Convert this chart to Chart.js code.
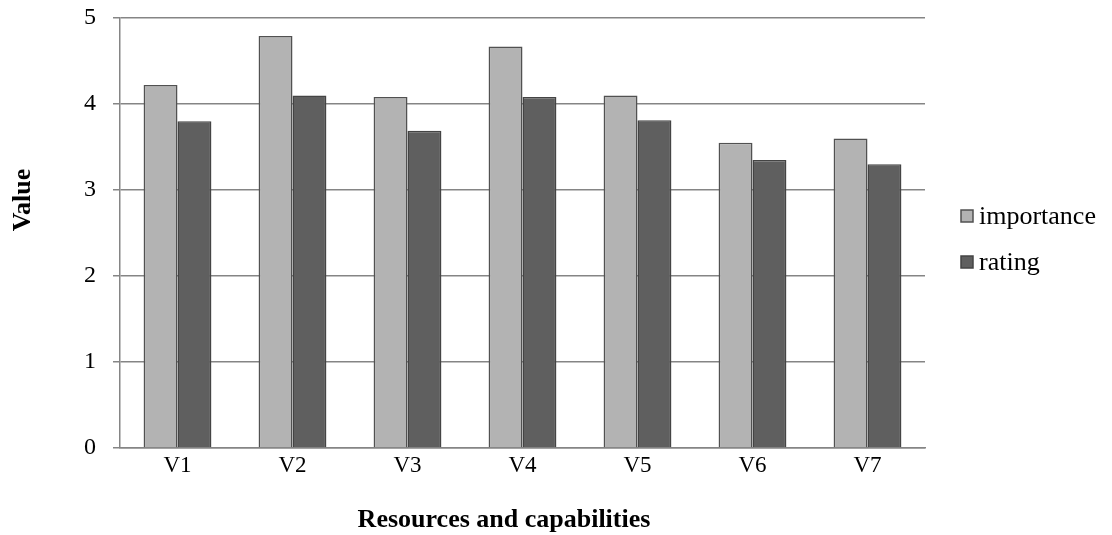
<!DOCTYPE html>
<html>
<head>
<meta charset="utf-8">
<script src="https://cdn.jsdelivr.net/npm/chart.js@4"></script>
<style>
  html, body { margin: 0; padding: 0; background: #fff; }
  #wrap { width: 1112px; height: 535px; }
</style>
</head>
<body>
<div id="wrap"><canvas id="c" width="1112" height="535"></canvas></div>
<script>
const categories = ['V1', 'V2', 'V3', 'V4', 'V5', 'V6', 'V7'];
const importance = [4.22, 4.79, 4.08, 4.67, 4.10, 3.55, 3.60];
const rating = [3.80, 4.10, 3.69, 4.08, 3.81, 3.35, 3.30];
const seriesNames = ['importance', 'rating'];
const yTicks = [0, 1, 2, 3, 4, 5];
const xTitle = 'Resources and capabilities';
const yTitle = 'Value';

const SERIF = '"Liberation Serif", "Times New Roman", serif';

// Axis titles and the side legend, painted after the bars
const extras = {
  id: 'extras',
  afterDraw(chart) {
    const ctx = chart.ctx;
    ctx.save();
    ctx.fillStyle = '#000';
    ctx.font = 'bold 26px ' + SERIF;
    ctx.textAlign = 'center';
    ctx.textBaseline = 'middle';
    ctx.fillText(xTitle, 504, 520);
    ctx.translate(23, 200);
    ctx.rotate(-Math.PI / 2);
    ctx.fillText(yTitle, 0, 0);
    ctx.restore();

    ctx.save();
    ctx.font = '26px ' + SERIF;
    ctx.textBaseline = 'middle';
    ctx.textAlign = 'left';
    const rows = [216, 262];
    chart.data.datasets.forEach((ds, i) => {
      const y = rows[i];
      ctx.fillStyle = ds.backgroundColor;
      ctx.strokeStyle = ds.borderColor;
      ctx.lineWidth = 1.5;
      ctx.fillRect(961, y - 6, 12, 12);
      ctx.strokeRect(961, y - 6, 12, 12);
      ctx.fillStyle = '#000';
      ctx.fillText(ds.label, 979, y + 1);
    });
    ctx.restore();
  }
};

new Chart(document.getElementById('c'), {
  type: 'bar',
  data: {
    labels: categories,
    datasets: [
      { label: seriesNames[0], data: importance, backgroundColor: '#b3b3b3', borderColor: '#515151', borderWidth: 1.5 },
      { label: seriesNames[1], data: rating, backgroundColor: '#5f5f5f', borderColor: '#444444', borderWidth: 1.5 }
    ]
  },
  options: {
    responsive: false,
    animation: false,
    devicePixelRatio: 1,
    layout: { padding: { left: 0, right: 187, top: 18, bottom: 0 } },
    datasets: { bar: { barPercentage: 1.0, categoryPercentage: 0.59 } },
    plugins: { legend: { display: false }, tooltip: { enabled: false } },
    scales: {
      x: {
        grid: { display: false, drawTicks: false },
        border: { display: true, color: '#858585', width: 1.5 },
        ticks: { color: '#000', font: { family: SERIF, size: 23 }, padding: 4, maxRotation: 0 },
        afterFit(scale) {
          scale.height = 87;
          scale.paddingLeft = 0;
          scale.paddingRight = 0;
        }
      },
      y: {
        min: 0,
        max: 5,
        afterBuildTicks(scale) { scale.ticks = yTicks.map(v => ({ value: v })); },
        grid: { color: '#858585', lineWidth: 1.5, tickLength: 7, drawTicks: true },
        border: { display: true, color: '#858585', width: 1.5 },
        ticks: { color: '#000', font: { family: SERIF, size: 24 }, padding: 17 },
        afterFit(scale) {
          scale.width = 120;
          scale.paddingTop = 0;
          scale.paddingBottom = 0;
        }
      }
    }
  },
  plugins: [extras]
});
</script>
</body>
</html>
